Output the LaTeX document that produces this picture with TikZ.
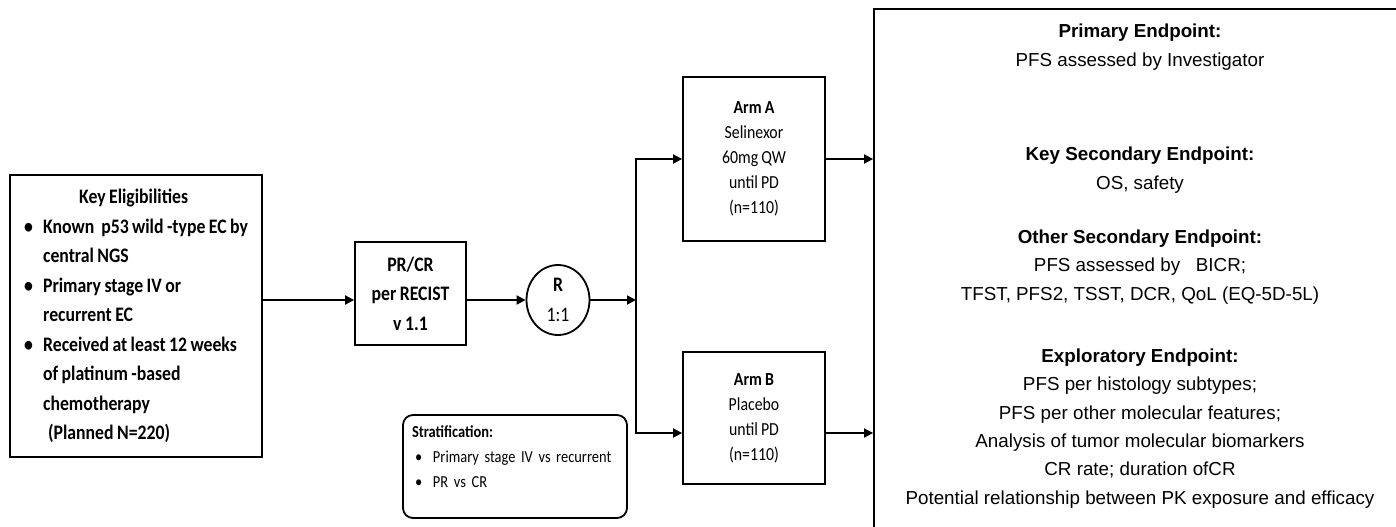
\documentclass[tikz,border=0pt]{standalone}
\usepackage{fontspec}
\setmainfont{Carlito}[FakeStretch=0.86,WordSpace=0.86]
\newfontfamily\arialfont{Liberation Sans}
\usetikzlibrary{arrows.meta,shapes.geometric}

\newcommand{\bul}{\makebox[9.5pt][l]{\textbullet}}
\newcommand{\ind}{\hspace*{9.5pt}}
\newcommand{\sbul}{\hspace*{1.5pt}\makebox[9pt][l]{\textbullet}}

\begin{document}
\begin{tikzpicture}[x=0.5pt,y=-0.5pt,
  box/.style={draw,line width=0.9pt,align=center,inner sep=0pt},
  link/.style={line width=0.9pt,-{Triangle[length=4.5pt,width=4.5pt]}},
  bigtxt/.style={font=\fontsize{10.3}{14.75}\selectfont},
  bigbold/.style={font=\bfseries\fontsize{10.3}{14.75}\selectfont},
  armtxt/.style={font=\fontsize{9.2}{12.5}\selectfont},
  eptxt/.style={font=\arialfont\fontsize{9.4}{14.2}\selectfont,align=center}]
  \useasboundingbox (0,0) rectangle (1396,526);
  \clip (0,0) rectangle (1396,526);

  \node[box,bigbold,align=left,minimum width=126pt,minimum height=141pt] (elig) at (136,316)
    {\hspace*{27.5pt}Key Eligibilities\\
     \bul Known\ \ p53 wild -type EC by\\
     \ind central NGS\\
     \bul Primary stage IV or\\
     \ind recurrent EC\\
     \bul Received at least 12 weeks\\
     \ind of platinum -based\\
     \ind chemotherapy\\
     \ind\hspace*{2.5pt}(Planned N=220)};
  \node[box,bigbold,minimum width=55.5pt,minimum height=51.5pt] (pr) at (410.5,293.5)
    {PR/CR\\per RECIST\\v 1.1};
  \node[draw,ellipse,line width=0.9pt,inner sep=0pt,minimum width=31.5pt,minimum height=35pt,
    bigtxt,align=center] (rand) at (558,300) {\textbf{R}\\1:1};
  \node[box,armtxt,minimum width=71pt,minimum height=82pt] (armA) at (754,159)
    {\textbf{Arm A}\\Selinexor\\60mg QW\\until PD\\(n=110)};
  \node[box,armtxt,minimum width=71pt,minimum height=66pt] (armB) at (754,418)
    {\textbf{Arm B}\\Placebo\\until PD\\(n=110)};
  \node[draw,line width=0.9pt,rounded corners=5pt,align=left,text width=103pt,inner xsep=4.5pt,
    inner ysep=0pt,minimum height=51.5pt,font=\fontsize{8.4}{12.5}\selectfont] (strat) at (515,466.5)
    {\textbf{Stratification:}\\
     \sbul Primary stage IV vs recurrent\\
     \sbul PR vs CR\rule[-10pt]{0pt}{10pt}};

  \node[box,minimum width=268pt,minimum height=265.5pt] (endp) at (1142,274.5) {};
  \node[eptxt] (ep1) at (1140,47) {\textbf{Primary Endpoint:}\\PFS assessed by Investigator};
  \node[eptxt] (ep2) at (1140,170) {\textbf{Key Secondary Endpoint:}\\OS, safety};
  \node[eptxt] (ep3) at (1140,267) {\textbf{Other Secondary Endpoint:}\\PFS assessed by\ \ \ BICR;\\
    TFST, PFS2, TSST, DCR, QoL (EQ-5D-5L)};
  \node[eptxt] (ep4) at (1140,428.5) {\textbf{Exploratory Endpoint:}\\PFS per histology subtypes;\\
    PFS per other molecular features;\\Analysis of tumor molecular biomarkers\\CR rate; duration ofCR\\
    Potential relationship between PK exposure and efficacy};

  \coordinate (split) at (636,300);
  \coordinate (splitA) at (split |- armA);
  \coordinate (splitB) at (636,433);

  \draw[link] (elig.east |- rand) -- (pr.west |- rand);
  \draw[link] (pr.east |- rand) -- (rand.west);
  \draw[link] (rand.east) -- (split);
  \draw[link] (splitB) -- (splitA) -- (armA.west);
  \draw[link,line cap=rect] (splitB) -- (armB.west |- splitB);
  \draw[link] (armA.east) -- (endp.west |- armA.east);
  \draw[link] (armB.east |- splitB) -- (endp.west |- splitB);
\end{tikzpicture}
\end{document}
